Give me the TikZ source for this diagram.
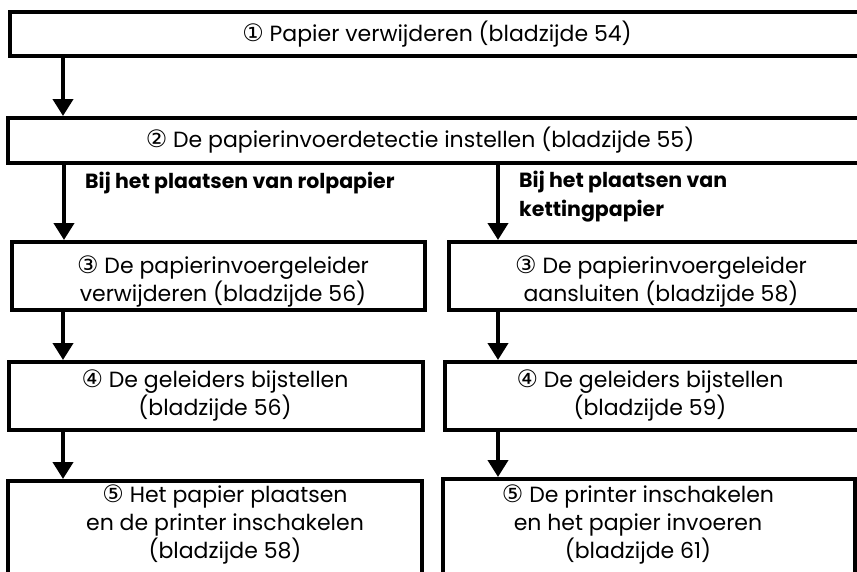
\documentclass[tikz,border=0pt]{standalone}
\usepackage{fontspec}
\setmainfont{Poppins}
\newfontfamily\circfont{DejaVu Sans}
\usetikzlibrary{arrows.meta}
\newcommand{\cnum}[1]{{\circfont\fontsize{24}{27}\selectfont #1}}
\tikzset{
  box/.style={draw=black, line width=4pt, rectangle, inner sep=0pt},
  txt/.style={font=\fontsize{22}{28}\selectfont, align=center, inner sep=0pt},
  lbl/.style={font=\fontsize{20.5}{29}\selectfont\bfseries, align=left, inner sep=0pt, anchor=west},
  flow/.style={line width=4pt, -{Triangle[width=20pt,length=17pt]}}
}
\begin{document}
\begin{tikzpicture}[x=1pt,y=-1pt]
\useasboundingbox (0,0) rectangle (857,571);
\clip (0,0) rectangle (857,571);
% boxes
\node[box, minimum width=856pt, minimum height=44pt] (b1) at (438,34) {};
\node[box, minimum width=858pt, minimum height=45pt] (b2) at (437,140.5) {};
\node[box, minimum width=413pt, minimum height=68pt] (b3L) at (218.5,276) {};
\node[box, minimum width=417pt, minimum height=68pt] (b3R) at (657.5,276) {};
\node[box, minimum width=414pt, minimum height=68pt] (b4L) at (216,396) {};
\node[box, minimum width=421pt, minimum height=68pt] (b4R) at (655.5,396) {};
\node[box, minimum width=414pt, minimum height=110pt] (b5L) at (215,536) {};
\node[box, minimum width=412pt, minimum height=112pt] (b5R) at (649,535) {};
% texts
\node[txt] (t1) at (437,34) {\cnum{①} Papier verwijderen (bladzijde 54)};
\node[txt] (t2) at (420,140.5) {\cnum{②} De papierinvoerdetectie instellen (bladzijde 55)};
\node[txt] (t3L) at (223,281) {\cnum{③} De papierinvoergeleider\\verwijderen (bladzijde 56)};
\node[txt] (t3R) at (661,281) {\cnum{③} De papierinvoergeleider\\aansluiten (bladzijde 58)};
\node[txt] (t4L) at (215,395) {\cnum{④} De geleiders bijstellen\\(bladzijde 56)};
\node[txt] (t4R) at (650,395) {\cnum{④} De geleiders bijstellen\\(bladzijde 59)};
\node[txt] (t5L) at (225,524) {\cnum{⑤} Het papier plaatsen\\en de printer inschakelen\\(bladzijde 58)};
\node[txt] (t5R) at (638,524) {\cnum{⑤} De printer inschakelen\\en het papier invoeren\\(bladzijde 61)};
\node[lbl] (lL) at (85,183) {Bij het plaatsen van rolpapier};
\node[lbl] (lR) at (519,197) {Bij het plaatsen van\\kettingpapier};
% arrows
\draw[flow] (b1.south -| 63,0) -- (b2.north -| 63,0);
\draw[flow] (b2.south -| 64,0) -- (b3L.north -| 64,0);
\draw[flow] (b2.south -| 498,0) -- (b3R.north -| 498,0);
\draw[flow] (b3L.south -| 63,0) -- (b4L.north -| 63,0);
\draw[flow] (b3R.south -| 498,0) -- (b4R.north -| 498,0);
\draw[flow] (b4L.south -| 63,0) -- (b5L.north -| 63,0);
\draw[flow] (b4R.south -| 498,0) -- (b5R.north -| 498,0);
\end{tikzpicture}
\end{document}
